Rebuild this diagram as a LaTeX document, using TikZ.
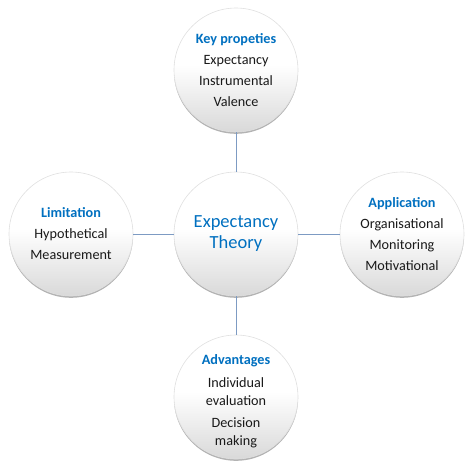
\documentclass[tikz,border=0pt]{standalone}
\usepackage{fontspec}
\setmainfont{Carlito}
\usetikzlibrary{shadows}
\definecolor{ttl}{RGB}{0,112,192}
\definecolor{body}{RGB}{25,25,25}
\definecolor{conn}{RGB}{125,155,195}
\pgfdeclareverticalshading{bubble}{100bp}{color(0bp)=(black!15); color(25bp)=(black!15); color(52bp)=(white); color(100bp)=(white)}
\tikzset{
  bubblenode/.style={circle, minimum size=124pt, inner sep=0pt, draw=black!12, line width=0.6pt,
    shading=bubble, drop shadow={shadow xshift=0pt, shadow yshift=-1.8pt, fill=black!50, opacity=0.6},
    align=center, text=body, font=\fontsize{14.2}{21}\selectfont},
  connector/.style={draw=conn, line width=0.9pt},
}
\newcommand{\ttlline}[1]{{\color{ttl}\bfseries #1}}
\begin{document}
\begin{tikzpicture}[x=1pt,y=-1pt]
\useasboundingbox (0,0) rectangle (474,464);
\node[bubblenode] (top) at (236,70) {\ttlline{Key propeties}\\Expectancy\\Instrumental\\Valence};
\node[bubblenode] (mid) at (236,234) {\fontsize{18.5}{18.5}\selectfont\color{ttl}Expectancy\\\fontsize{18.5}{18.5}\selectfont\color{ttl}Theory};
\node[bubblenode] (left) at (71,234) {\ttlline{Limitation}\\Hypothetical\\Measurement};
\node[bubblenode] (right) at (402,234) {\ttlline{Application}\\Organisational\\Monitoring\\Motivational};
\node[bubblenode, font=\fontsize{14.2}{18}\selectfont] (bot) at (236,397) {\rule{0pt}{19pt}\ttlline{Advantages}\\[5pt]Individual\\evaluation\\[4pt]Decision\\making};
\draw[connector] (top) -- (mid);
\draw[connector] (mid) -- (bot);
\draw[connector] (left) -- (mid);
\draw[connector] (mid) -- (right);
\end{tikzpicture}
\end{document}
